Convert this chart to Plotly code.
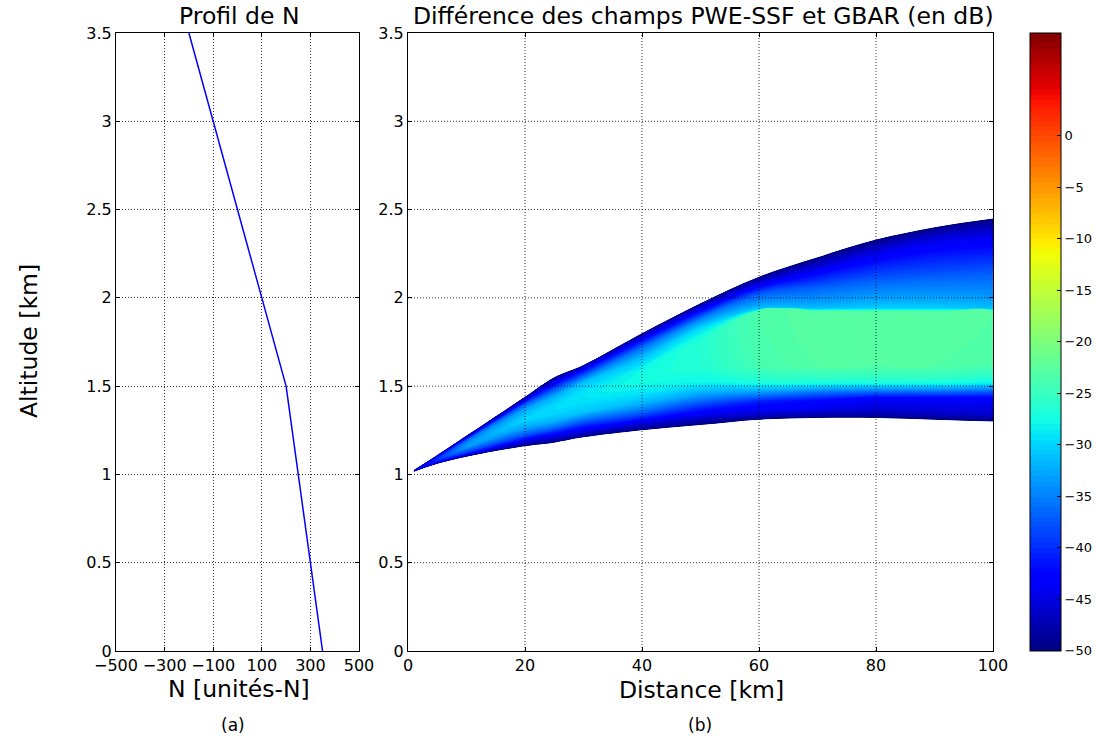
import numpy as np
import plotly.graph_objects as go

# ---------------- data ----------------
# Left panel: refractivity profile
n_units = [350, 200, -200]
n_alt_km = [0.0, 1.5, 3.5]

n_ticks = [-500, -300, -100, 100, 300, 500]
n_ticktext = ["\u2212500", "\u2212300", "\u2212100", "100", "300", "500"]
alt_ticks = [0, 0.5, 1, 1.5, 2, 2.5, 3, 3.5]
alt_ticktext = ["0", "0.5", "1", "1.5", "2", "2.5", "3", "3.5"]
dist_ticks = [0, 20, 40, 60, 80, 100]
cbar_ticks = [-50, -45, -40, -35, -30, -25, -20, -15, -10, -5, 0]

dist_km = [1, 5, 10, 20, 25, 30, 40, 50, 60, 70, 80, 90, 100]
beam_index = list(range(11))
alt_km = [
    [1.015, 1.016, 1.017, 1.018, 1.019, 1.020, 1.021, 1.022, 1.023, 1.024, 1.025],
    [1.060, 1.065, 1.070, 1.075, 1.080, 1.085, 1.090, 1.095, 1.100, 1.105, 1.110],
    [1.10, 1.11, 1.12, 1.14, 1.15, 1.16, 1.17, 1.19, 1.20, 1.21, 1.22],
    [1.16, 1.19, 1.22, 1.26, 1.29, 1.31, 1.34, 1.37, 1.40, 1.42, 1.44],
    [1.18, 1.22, 1.26, 1.30, 1.34, 1.37, 1.40, 1.44, 1.48, 1.52, 1.55],
    [1.21, 1.25, 1.30, 1.35, 1.40, 1.44, 1.48, 1.52, 1.56, 1.60, 1.62],
    [1.25, 1.29, 1.34, 1.40, 1.46, 1.53, 1.60, 1.66, 1.72, 1.77, 1.80],
    [1.28, 1.32, 1.38, 1.45, 1.52, 1.62, 1.75, 1.82, 1.88, 1.93, 1.97],
    [1.31, 1.35, 1.41, 1.46, 1.52, 1.62, 1.92, 1.94, 2.02, 2.08, 2.12],
    [1.32, 1.36, 1.42, 1.47, 1.52, 1.62, 1.92, 1.94, 2.06, 2.17, 2.23],
    [1.32, 1.36, 1.43, 1.47, 1.52, 1.62, 1.92, 1.94, 2.10, 2.26, 2.33],
    [1.31, 1.35, 1.43, 1.47, 1.52, 1.62, 1.92, 1.94, 2.12, 2.33, 2.40],
    [1.30, 1.34, 1.43, 1.47, 1.52, 1.62, 1.92, 1.94, 2.14, 2.38, 2.45],
]
diff_db = [
    [-50, -48, -47, -46, -45, -45, -45, -46, -47, -48, -50],
    [-50, -46, -43, -41, -40, -39.5, -40, -41, -43, -46, -50],
    [-50, -45, -40, -36, -34, -33.5, -34, -36, -40, -45, -50],
    [-50, -44, -38, -33, -31, -30, -31, -33, -38, -44, -50],
    [-50, -44, -37, -32, -30, -29.5, -30, -32, -37, -44, -50],
    [-50, -44, -37, -31, -29.5, -29, -29.5, -31, -37, -44, -50],
    [-50, -45, -38, -32, -29, -27.5, -28, -31, -36, -44, -50],
    [-50, -46, -40, -33, -28, -26.5, -26.5, -29, -35, -43, -50],
    [-50, -45, -41, -34, -27, -24, -23.5, -31, -37, -45, -50],
    [-50, -45, -42, -35, -27, -23, -22.5, -31, -37, -45, -50],
    [-50, -46, -43, -36, -27, -23, -22.5, -30, -37, -45, -50],
    [-50, -46, -43, -36, -27, -23, -22.5, -30, -37, -45, -50],
    [-50, -46, -43, -37, -28, -23.5, -23, -31, -37, -46, -50],
]

# ---------------- styling helpers ----------------
W, H = 1096, 739
FONT = "DejaVu Sans"

def px_x(p):
    return p / W

def px_y(p):
    return 1 - p / H

# matplotlib "jet"
_r = [(0, 0), (0.35, 0), (0.66, 1), (0.89, 1), (1, 0.5)]
_g = [(0, 0), (0.125, 0), (0.375, 1), (0.64, 1), (0.91, 0), (1, 0)]
_b = [(0, 0.5), (0.11, 1), (0.34, 1), (0.65, 0), (1, 0)]
_stops = sorted(set(p for seg in (_r, _g, _b) for p, _ in seg))

def _ch(seg, t):
    return float(np.interp(t, [p for p, _ in seg], [v for _, v in seg]))

jet = [[t, "rgb(%d,%d,%d)" % (round(255 * _ch(_r, t)), round(255 * _ch(_g, t)), round(255 * _ch(_b, t)))]
       for t in _stops]

fig = go.Figure()

# Left: N profile
fig.add_trace(go.Scatter(x=n_units, y=n_alt_km, mode="lines",
                         line=dict(color="rgb(0,0,255)", width=1.5),
                         xaxis="x", yaxis="y", showlegend=False, hoverinfo="skip"))

# Right: beam field difference on a curvilinear carpet
x2d = [[d] * len(beam_index) for d in dist_km]
hidden_axis = dict(showgrid=False, showline=False, showticklabels="none",
                   startline=False, endline=False, minorgridcount=0,
                   tickmode="array", tickvals=[], title=dict(text=""))
fig.add_trace(go.Carpet(a=beam_index, b=dist_km, x=x2d, y=alt_km, carpet="beam",
                        xaxis="x2", yaxis="y2", aaxis=hidden_axis, baxis=hidden_axis))
fig.add_trace(go.Contourcarpet(
    a=beam_index, b=dist_km, z=diff_db, carpet="beam", xaxis="x2", yaxis="y2",
    autocontour=False,
    contours=dict(start=-50, end=10, size=0.5, coloring="fill", showlines=False),
    line=dict(width=0),
    colorscale=jet, zmin=-50, zmax=10, zauto=False,
    colorbar=dict(
        x=px_x(1030), xanchor="left", xpad=0, ypad=0,
        y=px_y(341.5), yanchor="middle",
        len=618 / H, lenmode="fraction",
        thickness=31, thicknessmode="pixels",
        outlinewidth=1, outlinecolor="black",
        tickmode="array", tickvals=cbar_ticks,
        ticktext=[("\u2212%d" % -v) if v < 0 else str(v) for v in cbar_ticks],
        ticks="inside", ticklen=4, tickcolor="black",
        tickfont=dict(family=FONT, size=13, color="black"),
    ),
))

axis_common = dict(showline=True, linecolor="black", linewidth=1, mirror="ticks",
                   ticks="inside", ticklen=4, tickcolor="black",
                   tickfont=dict(family=FONT, size=16, color="black"),
                   zeroline=False, automargin=False)

GRID_COLOR = "rgba(0,0,0,0.8)"
GRID_DASH = "1px,2px"
grid_style = dict(showgrid=True, gridcolor=GRID_COLOR, gridwidth=1, griddash=GRID_DASH)

fig.update_layout(
    width=W, height=H, autosize=False,
    margin=dict(l=0, r=0, t=0, b=0, pad=0, autoexpand=False),
    paper_bgcolor="white", plot_bgcolor="white",
    font=dict(family=FONT, color="black"),
    xaxis=dict(domain=[px_x(116), px_x(359)], range=[-500, 500],
               tickmode="array", tickvals=n_ticks, ticktext=n_ticktext,
               anchor="y", **grid_style, **axis_common),
    yaxis=dict(domain=[px_y(651), px_y(33)], range=[0, 3.5],
               tickmode="array", tickvals=alt_ticks, ticktext=alt_ticktext,
               anchor="x", **grid_style, **axis_common),
    xaxis2=dict(domain=[px_x(408), px_x(993)], range=[0, 100],
                tickmode="array", tickvals=dist_ticks,
                anchor="y2", showgrid=False, layer="above traces", **axis_common),
    yaxis2=dict(domain=[px_y(651), px_y(33)], range=[0, 3.5],
                tickmode="array", tickvals=alt_ticks, ticktext=alt_ticktext,
                anchor="x2", showgrid=False, layer="above traces", **axis_common),
)

# dotted grid of the right panel drawn above the field (as in the original)
grid_line = dict(color=GRID_COLOR, width=1, dash=GRID_DASH)
for v in dist_ticks[1:-1]:
    fig.add_shape(type="line", xref="x2", yref="y2", x0=v, x1=v, y0=0, y1=3.5,
                  line=grid_line, layer="above")
for v in alt_ticks[1:-1]:
    fig.add_shape(type="line", xref="x2", yref="y2", x0=0, x1=100, y0=v, y1=v,
                  line=grid_line, layer="above")

def note(text, x, y, size, angle=0):
    fig.add_annotation(text=text, xref="paper", yref="paper", x=px_x(x), y=px_y(y),
                       xanchor="center", yanchor="middle", showarrow=False,
                       textangle=angle, font=dict(family=FONT, size=size, color="black"))

note("Profil de N", 239, 16, 23.5)
note("Différence des champs PWE-SSF et GBAR (en dB)", 703, 16, 23.5)
note("Altitude [km]", 29, 341, 23.5, -90)
note("N [unités-N]", 239, 689, 23.5)
note("Distance [km]", 701, 690, 23.5)
note("(a)", 233, 725, 17)
note("(b)", 700, 725, 17)

fig.write_html("out.html",
               config={"displayModeBar": False},
               post_script="document.body.style.margin='0px';document.body.style.overflow='hidden';")
